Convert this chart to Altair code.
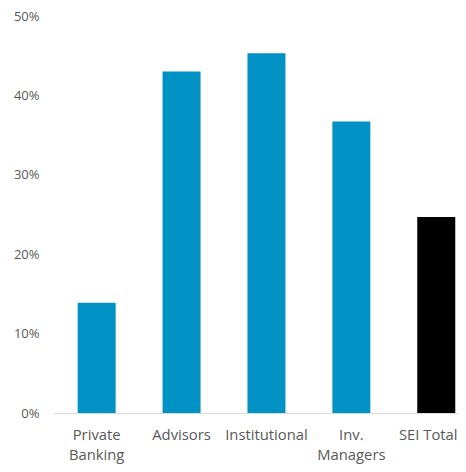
import altair as alt
import pandas as pd

categories = ["Private Banking", "Advisors", "Institutional", "Inv. Managers", "SEI Total"]
values = [0.139, 0.430, 0.453, 0.367, 0.247]
colors = ["#0092C4", "#0092C4", "#0092C4", "#0092C4", "#000000"]

df = pd.DataFrame({"category": categories, "value": values, "color": colors})

FONT = "Open Sans"

chart = (
    alt.Chart(df)
    .mark_bar()
    .encode(
        x=alt.X(
            "category:N",
            sort=categories,
            title=None,
            scale=alt.Scale(paddingInner=0.5524, paddingOuter=0.1555, align=0.896),
            axis=alt.Axis(
                labelAngle=0,
                ticks=False,
                tickSize=0,
                domainColor="#d9d9d9",
                domainWidth=1,
                labelColor="#595959",
                labelFont=FONT,
                labelFontSize=14.8,
                labelPadding=14,
                labelLineHeight=20,
                labelOffset={"condition": {"test": "datum.value == 'SEI Total'", "value": -8}, "value": 0},
                labelExpr="datum.label == 'SEI Total' ? datum.label : split(datum.label, ' ')",
            ),
        ),
        y=alt.Y(
            "value:Q",
            title=None,
            scale=alt.Scale(domain=[0, 0.5], nice=False),
            axis=alt.Axis(
                format=".0%",
                values=[0, 0.1, 0.2, 0.3, 0.4, 0.5],
                grid=False,
                domain=False,
                ticks=False,
                tickSize=0,
                labelColor="#595959",
                labelFont=FONT,
                labelFontSize=13,
                labelPadding=15,
            ),
        ),
        color=alt.Color("color:N", scale=None, legend=None),
    )
    .properties(
        width=404,
        height=397,
        autosize=alt.AutoSizeParams(type="none"),
        padding={"left": 46, "top": 8, "right": 0, "bottom": 51},
    )
    .configure_view(stroke=None)
)

chart.save("out.html", embed_options={"renderer": "svg", "actions": False})
